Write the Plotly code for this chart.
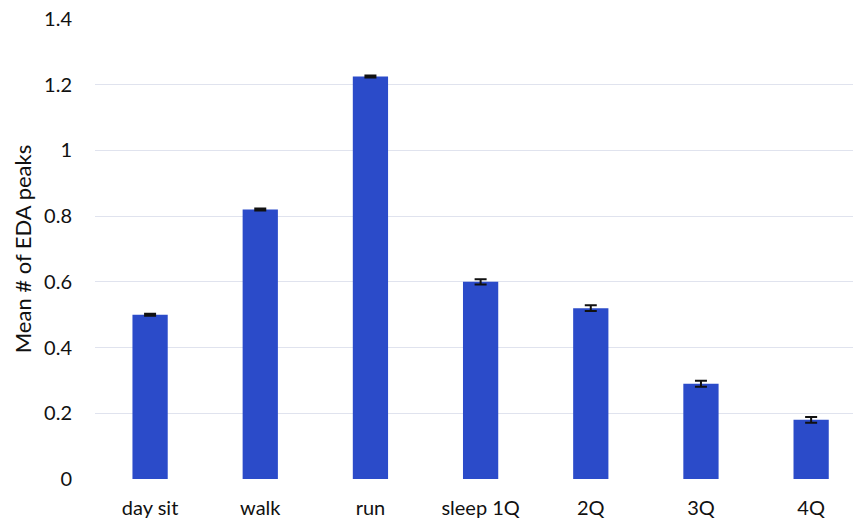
import plotly.graph_objects as go

# Mean number of EDA peaks per activity / sleep quarter
categories = ["day sit", "walk", "run", "sleep 1Q", "2Q", "3Q", "4Q"]
mean_peaks = [0.50, 0.82, 1.225, 0.60, 0.52, 0.29, 0.18]
std_err = [0.003, 0.003, 0.003, 0.008, 0.009, 0.009, 0.009]

fig = go.Figure(
    go.Bar(
        x=categories,
        y=mean_peaks,
        width=0.32,
        marker=dict(color="#2b4bc9", line=dict(width=0)),
        error_y=dict(type="data", array=std_err, visible=True,
                     color="#111111", thickness=2, width=6),
    )
)

fig.update_layout(
    width=853,
    height=527,
    margin=dict(l=95, r=0, t=19, b=48),
    paper_bgcolor="white",
    plot_bgcolor="white",
    font=dict(family="Lato, 'Open Sans', sans-serif", size=20, color="#111111"),
    showlegend=False,
)

fig.update_xaxes(
    range=[-0.5, 6.38],
    showgrid=False,
    zeroline=False,
    showline=False,
    ticks="outside",
    ticklen=11,
    tickcolor="rgba(0,0,0,0)",
)

fig.update_yaxes(
    range=[0, 1.4],
    tickvals=[0, 0.2, 0.4, 0.6, 0.8, 1.0, 1.2, 1.4],
    ticktext=["0", "0.2", "0.4", "0.6", "0.8", "1", "1.2", "1.4"],
    showgrid=True,
    gridcolor="#e0e3ee",
    gridwidth=1,
    zeroline=False,
    showline=False,
    ticks="outside",
    ticklen=18,
    tickcolor="rgba(0,0,0,0)",
    title=dict(text="Mean # of EDA peaks", font=dict(size=22), standoff=6),
)

fig.write_html("out.html")
